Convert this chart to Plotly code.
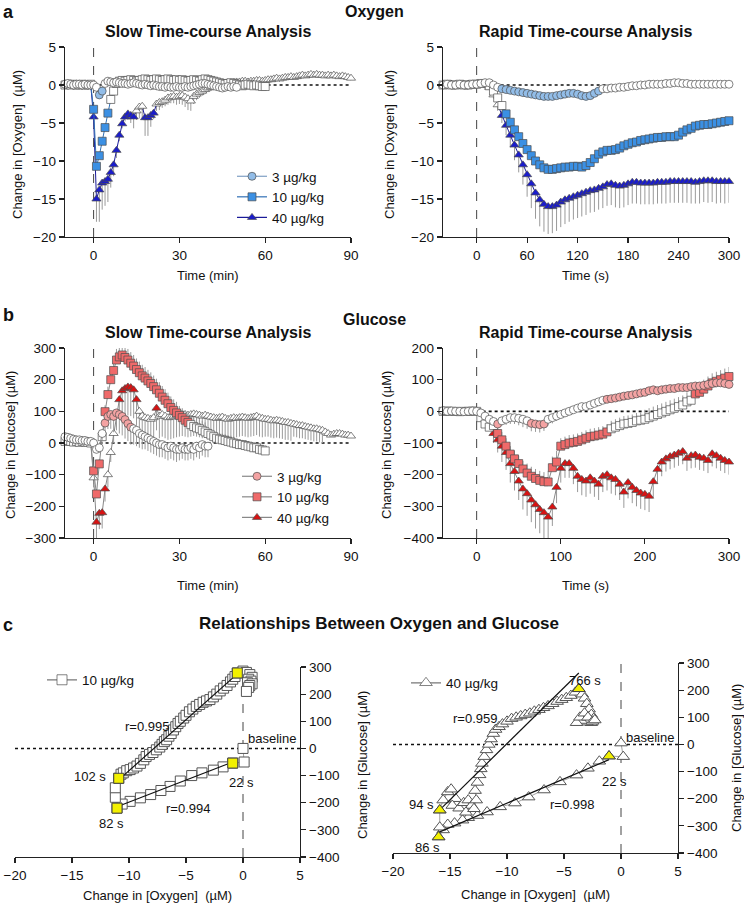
import numpy as np
import plotly.graph_objects as go

FONT = "Liberation Sans, Arial, Helvetica, sans-serif"
W, H = 744, 907

# ---------------- Oxygen, slow time-course (min) ----------------
ox_slow_t3 = list(range(-10, 51))
ox_slow_3 = [0.1, 0.2, 0.1, 0.0, 0.1, 0.1, 0.0, 0.1, 0.0, 0.0,
             0.0, -0.3, -1.3, -0.8, 0.2, 0.5, 0.4, 0.3, 0.4, 0.3,
             0.2, 0.2, 0.1, 0.2, 0.3, 0.2, 0.1, 0.0, 0.1, 0.0,
             -0.1, 0.0, -0.1, -0.2, -0.2, -0.3, -0.2, -0.3, -0.3, -0.2,
             -0.3, -0.3, -0.2, -0.3, -0.2, -0.1, 0.0, 0.1, 0.2, 0.2,
             0.1, 0.0, -0.1, -0.2, -0.3, -0.4, -0.3, -0.2, -0.3, -0.2, -0.3]
ox_slow_3_sig = [(2, 3)]
ox_slow_3_err = 0.2

ox_slow_t10 = list(range(-10, 61))
ox_slow_10 = [0.0, 0.1, 0.0, 0.1, 0.0, 0.0, 0.1, 0.0, 0.0, 0.1,
              -3.2, -10.7, -9.3, -7.4, -5.6, -3.7, -1.9, -0.8, 0.2, 0.5,
              0.6, 0.5, 0.6, 0.7, 0.6, 0.5, 0.6, 0.7, 0.8, 0.7,
              0.6, 0.7, 0.8, 0.7, 0.6, 0.7, 0.8, 0.7, 0.6, 0.7,
              0.6, 0.7, 0.6, 0.5, 0.6, 0.7, 0.6, 0.5, 0.7, 0.8,
              0.7, 0.6, 0.5, 0.4, 0.3, 0.2, 0.1, 0.2, 0.3, 0.2,
              0.1, 0.0, -0.1, 0.0, 0.1, 0.0, -0.1, 0.0, -0.1, -0.2, -0.2]
ox_slow_10_sig = [(0, 5)]
ox_slow_10_err = 0.4

ox_slow_t40 = list(range(-10, 91))
ox_slow_40 = [0.1, 0.0, 0.1, 0.0, 0.0, 0.1, 0.0, 0.0, 0.0, 0.0,
              -4.2, -15.0, -13.8, -12.9, -12.7, -12.4, -11.5, -10.5, -8.6, -6.6,
              -5.1, -4.2, -3.8, -4.0, -4.2, -3.4, -2.9, -2.8, -4.3, -4.3,
              -4.0, -3.7, -2.5, -2.3, -2.2, -2.0, -1.7, -1.6, -1.5, -1.6,
              -1.5, -1.4, -1.6, -1.8, -2.1, -1.5, -1.2, -1.0, -0.8, -0.6,
              -0.4, -0.3, -0.2, -0.1, 0.0, 0.1, 0.2, 0.2, 0.3, 0.3,
              0.4, 0.4, 0.5, 0.5, 0.4, 0.5, 0.5, 0.6, 0.6, 0.5,
              0.6, 0.7, 0.7, 0.8, 0.9, 0.8, 0.9, 1.0, 1.0, 1.1,
              1.0, 1.1, 1.2, 1.3, 1.2, 1.3, 1.4, 1.3, 1.4, 1.3,
              1.3, 1.2, 1.3, 1.2, 1.3, 1.2, 1.1, 1.2, 1.1, 1.0, 0.9]
ox_slow_40_sig = [(0, 14), (18, 21)]
ox_slow_40_err = [0.2, 0.2, 0.2, 0.2, 0.2, 0.2, 0.2, 0.2, 0.2, 0.2,
                  1.5, 3.0, 4.2, 3.5, 3.2, 3.0, 2.0, 1.5, 1.0, 0.8,
                  0.6, 0.6, 0.8, 1.0, 1.5, 1.2, 1.5, 1.8, 2.4, 2.4,
                  1.5, 0.8, 0.9, 1.0, 0.8, 0.8, 0.9, 0.8, 0.9, 1.0,
                  1.0, 1.2, 1.3, 1.5, 1.3, 1.0, 0.8, 0.7, 0.6, 0.6,
                  0.5, 0.5, 0.5, 0.5, 0.5, 0.5, 0.5, 0.5, 0.5, 0.5,
                  0.4, 0.4, 0.4, 0.4, 0.4, 0.4, 0.4, 0.4, 0.4, 0.4,
                  0.4, 0.4, 0.4, 0.4, 0.4, 0.4, 0.4, 0.4, 0.4, 0.4,
                  0.3, 0.3, 0.3, 0.3, 0.3, 0.3, 0.3, 0.3, 0.3, 0.3,
                  0.3, 0.3, 0.3, 0.3, 0.3, 0.3, 0.3, 0.3, 0.3, 0.3, 0.3]

# ---------------- Oxygen, rapid time-course (s) ----------------
rapid_t = list(range(-40, 301, 5))
ox_rapid_3 = [0.0, 0.1, 0.0, 0.0, 0.1, 0.0, 0.0, 0.1,
              0.1, 0.2, 0.3, 0.3, 0.0, -0.3, -0.5, -0.6, -0.7, -0.8,
              -0.9, -1.0, -1.1, -1.2, -1.3, -1.4, -1.5, -1.5, -1.5, -1.4,
              -1.3, -1.2, -1.1, -1.1, -1.2, -1.4, -1.5, -1.4, -1.1, -0.8,
              -0.5, -0.5, -0.4, -0.4, -0.3, -0.3, -0.2, -0.1, -0.1, 0.0,
              0.0, 0.1, 0.1, 0.1, 0.1, 0.2, 0.2, 0.3, 0.3, 0.2,
              0.2, 0.1, 0.1, 0.1, 0.1, 0.1, 0.1, 0.1, 0.1, 0.1, 0.1]
ox_rapid_3_sig = [(30, 145)]
ox_rapid_3_err = 0.15

ox_rapid_10 = [0.0, 0.1, 0.0, 0.0, 0.1, 0.0, 0.0, 0.1,
               0.1, 0.2, 0.2, -0.1, -0.8, -1.7, -2.7, -3.8, -4.9, -5.9,
               -6.8, -7.7, -8.5, -9.3, -10.0, -10.5, -10.9, -11.1, -11.1, -11.0,
               -10.9, -10.8, -10.8, -10.7, -10.7, -10.8, -10.6, -10.2, -9.7, -9.1,
               -8.8, -8.6, -8.6, -8.5, -8.3, -8.0, -7.8, -7.6, -7.5, -7.3,
               -7.2, -7.1, -7.0, -6.9, -6.9, -6.8, -6.8, -6.8, -6.6, -6.2,
               -5.9, -5.7, -5.4, -5.3, -5.2, -5.2, -5.1, -5.0, -4.9, -4.8, -4.7]
ox_rapid_10_sig = [(35, 300)]
ox_rapid_10_err = 0.5

ox_rapid_40 = [0.0, 0.0, 0.1, 0.0, 0.0, 0.0, 0.1, 0.0,
               0.1, 0.2, 0.2, -0.3, -1.3, -2.6, -4.0, -5.3, -6.6, -7.9,
               -9.2, -10.5, -11.8, -13.0, -14.2, -15.1, -15.7, -16.0, -16.0, -15.8,
               -15.4, -15.1, -14.9, -14.7, -14.5, -14.3, -14.1, -13.9, -13.8, -13.6,
               -13.4, -13.1, -13.0, -13.2, -13.3, -13.2, -13.0, -12.8, -12.8, -12.9,
               -12.9, -12.9, -12.9, -12.8, -12.8, -12.8, -12.7, -12.7, -12.7, -12.7,
               -12.7, -12.7, -12.8, -12.7, -12.6, -12.6, -12.6, -12.7, -12.7, -12.7, -12.7]
ox_rapid_40_sig = [(30, 300)]
ox_rapid_40_err = [0.1, 0.1, 0.1, 0.1, 0.1, 0.1, 0.1, 0.1,
                   0.1, 0.1, 0.1, 0.3, 0.5, 0.8, 1.0, 1.3, 1.6, 2.0,
                   2.3, 2.6, 2.9, 3.2, 3.4, 3.5, 3.6, 3.6, 3.5, 3.4,
                   3.3, 3.2, 3.1, 3.0, 3.0, 3.0, 3.0, 2.9, 2.9, 2.8,
                   2.8, 2.8, 2.8, 2.9, 2.9, 2.9, 2.8, 2.8, 2.8, 2.8,
                   2.8, 2.8, 2.8, 2.8, 2.8, 2.8, 2.8, 2.8, 2.8, 2.8,
                   2.8, 2.9, 2.8, 2.9, 2.8, 2.9, 2.8, 2.9, 2.8, 2.9, 2.8]

# ---------------- Glucose, slow time-course (min) ----------------
glu_slow_t3 = list(range(-10, 41))
glu_slow_3 = [20, 18, 15, 12, 10, 10, 8, 8, 5, 5,
              0, -20, -15, 30, 63, 84, 90, 84, 95, 90,
              84, 74, 61, 50, 45, 40, 30, 25, 20, 15,
              10, 5, 0, -5, -5, -10, -15, -10, -15, -20,
              -20, -15, -20, -20, -15, -20, -10, -15, -5, -10, -10]
glu_slow_3_sig = [(4, 13)]
glu_slow_3_err = [5, 5, 5, 5, 5, 5, 5, 5, 5, 5,
                  5, 10, 10, 20, 30, 40, 45, 50, 55, 60,
                  60, 60, 55, 55, 50, 50, 45, 45, 40, 40,
                  40, 40, 40, 40, 40, 40, 40, 40, 40, 40,
                  35, 35, 35, 35, 35, 35, 35, 35, 35, 35, 35]

glu_slow_t10 = list(range(-10, 61))
glu_slow_10 = [5, 8, 5, 3, 5, 2, 5, 3, 2, 0,
               -88, -161, -66, 20, 99, 153, 200, 229, 262, 272,
               278, 270, 262, 252, 243, 232, 222, 212, 205, 196,
               188, 178, 168, 157, 145, 135, 124, 112, 103, 95,
               87, 80, 72, 65, 58, 52, 48, 45, 40, 35,
               30, 25, 20, 15, 12, 10, 8, 5, 3, 0,
               -2, -5, -5, -8, -10, -12, -15, -15, -20, -22, -25]
glu_slow_10_sig = [(0, 2), (4, 33)]
glu_slow_10_err = [5, 5, 5, 5, 5, 5, 5, 5, 5, 5,
                   10, 15, 15, 10, 20, 25, 30, 30, 35, 35,
                   35, 35, 35, 35, 35, 35, 35, 35, 35, 35,
                   35, 35, 35, 35, 35, 35, 35, 35, 35, 35,
                   30, 30, 30, 30, 30, 30, 30, 30, 30, 30,
                   20, 20, 20, 20, 20, 20, 20, 20, 20, 20,
                   15, 15, 15, 15, 15, 15, 15, 15, 15, 15, 15]

glu_slow_t40 = list(range(-10, 91))
glu_slow_40 = [5, 8, 5, 3, 5, 2, 5, 3, 2, 0,
               -110, -250, -222, -220, -145, -100, -30, 30, 90, 137,
               165, 172, 177, 175, 168, 137, 100, 85, 80, 78,
               75, 80, 110, 85, 90, 85, 80, 82, 85, 88,
               90, 92, 90, 88, 90, 92, 90, 88, 85, 88,
               85, 82, 80, 78, 80, 82, 78, 75, 78, 80,
               78, 80, 82, 80, 78, 80, 82, 85, 80, 78,
               75, 75, 72, 70, 72, 70, 68, 65, 65, 62,
               60, 58, 55, 55, 52, 50, 48, 45, 45, 42,
               40, 35, 30, 25, 28, 30, 30, 28, 25, 25, 22]
glu_slow_40_sig = [(1, 4), (9, 15), (22, 22)]
glu_slow_40_err = [5, 5, 5, 5, 5, 5, 5, 5, 5, 5,
                   30, 50, 50, 50, 40, 40, 30, 30, 40, 60,
                   80, 90, 90, 90, 90, 80, 70, 70, 70, 70,
                   70, 70, 70, 70, 70, 70, 70, 70, 70, 70,
                   70, 70, 70, 70, 70, 70, 70, 70, 70, 70,
                   65, 65, 65, 65, 65, 65, 65, 65, 65, 65,
                   60, 60, 60, 60, 60, 60, 60, 60, 60, 60,
                   55, 55, 55, 55, 55, 55, 55, 55, 55, 55,
                   40, 40, 40, 40, 40, 40, 40, 40, 40, 40, 40]

# ---------------- Glucose, rapid time-course (s) ----------------
glu_rapid_3 = [2, 0, 1, 0, 0, -1, 0, 1,
               0, -5, -15, -25, -32, -40, -30, -25, -20, -20,
               -22, -25, -30, -38, -40, -42, -40, -25, -20, -15,
               -10, -5, 0, 5, 10, 15, 15, 20, 25, 30,
               35, 38, 40, 42, 45, 48, 50, 52, 55, 58,
               60, 65, 68, 65, 68, 70, 72, 72, 75, 75,
               75, 78, 80, 80, 82, 85, 88, 90, 90, 88, 85]
glu_rapid_3_sig = [(25, 25), (65, 80), (155, 300)]
glu_rapid_3_err = [3, 3, 3, 3, 3, 3, 3, 3,
                   3, 5, 8, 10, 12, 15, 15, 18, 20, 20,
                   22, 25, 25, 25, 25, 25, 22, 20, 18, 15,
                   12, 12, 10, 10, 10, 10, 10, 10, 10, 10,
                   10, 10, 10, 10, 10, 10, 10, 10, 10, 10,
                   10, 10, 10, 10, 10, 10, 10, 10, 10, 10,
                   10, 10, 10, 10, 10, 10, 10, 10, 10, 10, 10]

glu_rapid_10 = [0, 1, 0, 0, -1, 0, 0, 1,
                0, -20, -40, -50, -45, -70, -90, -110, -135, -150,
                -165, -182, -195, -205, -212, -218, -222, -223, -178, -160,
                -110, -105, -100, -98, -95, -90, -85, -80, -78, -75,
                -72, -65, -55, -50, -45, -40, -38, -35, -30, -28,
                -25, -20, -15, -10, -5, 0, 5, 10, 15, 20,
                30, 35, 55, 60, 70, 80, 90, 95, 100, 105, 110]
glu_rapid_10_sig = [(25, 155), (260, 300)]
glu_rapid_10_err = [3, 3, 3, 3, 3, 3, 3, 3,
                    5, 10, 15, 15, 20, 20, 25, 25, 25, 25,
                    25, 25, 30, 30, 30, 30, 30, 35, 35, 35,
                    25, 25, 25, 25, 25, 25, 25, 25, 25, 25,
                    25, 25, 25, 25, 25, 25, 25, 25, 25, 25,
                    30, 30, 30, 30, 30, 30, 30, 30, 30, 30,
                    30, 30, 30, 30, 30, 30, 30, 30, 30, 30, 30]

glu_rapid_40 = [1, 0, 0, 1, 0, 0, -1, 0,
                0, -5, -20, -40, -70, -90, -110, -130, -165, -190,
                -220, -245, -260, -280, -295, -310, -320, -334, -302, -240,
                -180, -165, -165, -180, -205, -215, -220, -210, -220, -230,
                -205, -200, -210, -215, -230, -255, -225, -240, -250, -258,
                -262, -268, -222, -183, -160, -150, -143, -138, -132, -127,
                -148, -140, -138, -145, -148, -155, -134, -140, -148, -155, -160]
glu_rapid_40_sig = [(20, 300)]
glu_rapid_40_err = [2, 2, 2, 2, 2, 2, 2, 2,
                    2, 5, 10, 20, 30, 40, 50, 55, 60, 60,
                    60, 65, 70, 70, 75, 75, 80, 80, 60, 50,
                    45, 45, 45, 50, 50, 50, 50, 50, 50, 50,
                    50, 50, 50, 50, 50, 50, 50, 50, 50, 50,
                    50, 50, 50, 45, 45, 40, 40, 40, 40, 40,
                    40, 40, 40, 40, 40, 40, 40, 40, 40, 40, 40]

# ---------------- Oxygen vs glucose relationships ----------------
c10_start_ox = [0.0, 0.1]
c10_start_glu = [0, -50]
c10_lower_ox = [-0.9, -1.75, -2.6, -3.6, -4.5, -5.5, -6.4, -7.2, -8.1, -9.0, -9.9, -10.6, -11.05]
c10_lower_glu = [-54, -68, -80, -90, -100, -120, -140, -155, -170, -182, -195, -205, -220]
c10_mid_ox = [-11.2, -11.2]
c10_mid_glu = [-180, -145]
c10_upper_ox = [-10.9, -10.7, -10.5, -10.2, -9.9, -9.6, -9.3, -9.0, -8.7, -8.5,
                -8.2, -7.9, -7.6, -7.3, -7.1, -6.9, -6.7, -6.5, -6.3, -6.1,
                -5.9, -5.7, -5.5, -5.2, -5.0, -4.7, -4.4, -4.1, -3.8, -3.5,
                -3.2, -2.9, -2.6, -2.3, -2.0, -1.7, -1.4, -1.1, -0.9, -0.7, -0.5]
c10_upper_glu = [-110, -95, -90, -82, -78, -72, -65, -55, -42, -30,
                 -22, -15, -5, 5, 15, 25, 32, 45, 55, 68,
                 80, 92, 100, 112, 122, 135, 145, 155, 162, 170,
                 175, 180, 190, 200, 212, 222, 232, 245, 255, 265, 278]
c10_tail_ox = [0.0, 0.3, 0.6, 0.8, 0.5, 0.7, 0.4, 0.8, 0.6, 0.5, 0.3]
c10_tail_glu = [285, 280, 272, 262, 255, 248, 242, 238, 232, 225, 210]

c40_start_ox = [0.0, 0.2]
c40_start_glu = [5, -45]
c40_lower_ox = [-1.05, -1.9, -2.9, -3.9, -5.35, -6.75, -8.1, -9.3, -10.6, -11.75,
                -12.6, -13.4, -13.9, -14.6, -15.2, -15.6, -16.0]
c40_lower_glu = [-43, -62, -88, -113, -138, -168, -194, -216, -230, -249,
                 -262, -270, -279, -290, -295, -315, -341]
c40_mid_ox = [-15.9]
c40_mid_glu = [-305]
c40_upper_ox = [-15.9, -15.6, -15.2, -14.9, -14.5, -14.8, -14.2, -13.8, -13.4, -13.1,
                -13.6, -12.9, -12.7, -12.8, -12.6, -12.4, -12.3, -12.2, -12.0, -11.8,
                -11.6, -11.4, -11.2, -11.0, -10.7, -10.4, -10.0, -9.6, -9.2, -8.8,
                -8.4, -8.0, -7.6, -7.2, -6.8, -6.4, -6.0, -5.6, -5.2, -4.8,
                -4.4, -4.0, -3.7]
c40_upper_glu = [-242, -205, -175, -165, -200, -225, -235, -215, -205, -225,
                 -250, -237, -205, -170, -140, -112, -90, -70, -45, -20,
                 0, 20, 40, 55, 65, 75, 85, 95, 100, 105,
                 110, 115, 122, 128, 135, 142, 150, 158, 165, 172,
                 180, 192, 205]
c40_tail_ox = [-3.4, -3.2, -3.0, -2.8, -2.6, -2.4, -2.6, -3.0, -3.5, -3.9, -3.6, -3.2, -2.9, -2.5, -2.3]
c40_tail_glu = [185, 170, 150, 130, 110, 95, 80, 82, 88, 80, 100, 115, 100, 85, 90]

doses = ["3 µg/kg", "10 µg/kg", "40 µg/kg"]

# ---------------- styling ----------------
BLUE = ["#92bde8", "#3b90e4", "#1a1ccc"]
BLUE_LINE = ["#7f9fc4", "#2f6fb5", "#1a1a99"]
RED = ["#f4a3a3", "#ef6a6a", "#d81212"]
RED_LINE = ["#888888", "#888888", "#888888"]
EDGE = "#4d4d4d"
ERRC = "#9a9a9a"

fig = go.Figure()


def axn(n):
    return ("x" if n == 1 else f"x{n}"), ("y" if n == 1 else f"y{n}")


def sig_colors(t, windows, color):
    return [color if any(a <= ti <= b for a, b in windows) else "white" for ti in t]


def as_list(e, n):
    return list(e) if isinstance(e, (list, tuple)) else [e] * n


def add_series(n, t, v, windows, color, symbol, err, err_dir, line_color):
    xa, ya = axn(n)
    e = as_list(err, len(v))
    z = [0] * len(v)
    ey = dict(type="data", symmetric=False,
              array=e if err_dir == "up" else z,
              arrayminus=e if err_dir == "down" else z,
              color=ERRC, thickness=1, width=0)
    fig.add_trace(go.Scatter(
        x=t, y=v, xaxis=xa, yaxis=ya, mode="lines+markers",
        line=dict(color=line_color, width=1),
        marker=dict(symbol=symbol, size=8, color=sig_colors(t, windows, color),
                    line=dict(color=EDGE, width=0.7)),
        error_y=ey, cliponaxis=False, showlegend=False, hoverinfo="skip"))


def add_legend_entry(n, name, color, symbol, legend, line_color, size=8):
    xa, ya = axn(n)
    fig.add_trace(go.Scatter(
        x=[None], y=[None], xaxis=xa, yaxis=ya, mode="lines+markers", name=name,
        line=dict(color=line_color, width=1.2),
        marker=dict(symbol=symbol, size=size, color=color, line=dict(color=EDGE, width=0.7)),
        legend=legend, showlegend=True))


symbols = ["circle", "square", "triangle-up"]

# panel a, slow
add_series(1, ox_slow_t40, ox_slow_40, ox_slow_40_sig, BLUE[2], symbols[2], ox_slow_40_err, "down", BLUE_LINE[2])
add_series(1, ox_slow_t10, ox_slow_10, ox_slow_10_sig, BLUE[1], symbols[1], ox_slow_10_err, "down", BLUE_LINE[1])
add_series(1, ox_slow_t3, ox_slow_3, ox_slow_3_sig, BLUE[0], symbols[0], ox_slow_3_err, "down", BLUE_LINE[0])
for i in range(3):
    add_legend_entry(1, doses[i], BLUE[i], symbols[i], "legend", BLUE_LINE[i])

# panel a, rapid
add_series(2, rapid_t, ox_rapid_40, ox_rapid_40_sig, BLUE[2], symbols[2], ox_rapid_40_err, "down", BLUE_LINE[2])
add_series(2, rapid_t, ox_rapid_10, ox_rapid_10_sig, BLUE[1], symbols[1], ox_rapid_10_err, "down", BLUE_LINE[1])
add_series(2, rapid_t, ox_rapid_3, ox_rapid_3_sig, BLUE[0], symbols[0], ox_rapid_3_err, "down", BLUE_LINE[0])

# panel b, slow
add_series(3, glu_slow_t40, glu_slow_40, glu_slow_40_sig, RED[2], symbols[2], glu_slow_40_err, "down", RED_LINE[2])
add_series(3, glu_slow_t10, glu_slow_10, glu_slow_10_sig, RED[1], symbols[1], glu_slow_10_err, "up", RED_LINE[1])
add_series(3, glu_slow_t3, glu_slow_3, glu_slow_3_sig, RED[0], symbols[0], glu_slow_3_err, "down", RED_LINE[0])
for i in range(3):
    add_legend_entry(3, doses[i], RED[i], symbols[i], "legend2", RED_LINE[i])

# panel b, rapid
add_series(4, rapid_t, glu_rapid_40, glu_rapid_40_sig, RED[2], symbols[2], glu_rapid_40_err, "down", RED_LINE[2])
add_series(4, rapid_t, glu_rapid_10, glu_rapid_10_sig, RED[1], symbols[1], glu_rapid_10_err, "up", RED_LINE[1])
add_series(4, rapid_t, glu_rapid_3, glu_rapid_3_sig, RED[0], symbols[0], glu_rapid_3_err, "down", RED_LINE[0])


# panel c
def add_relationship(n, parts, symbol, size, legend, name):
    xa, ya = axn(n)
    ox = sum([p[0] for p in parts], [])
    gl = sum([p[1] for p in parts], [])
    fig.add_trace(go.Scatter(
        x=ox, y=gl, xaxis=xa, yaxis=ya, mode="lines+markers",
        line=dict(color="#8a8a8a", width=0.8),
        marker=dict(symbol=symbol, size=size, color="white", line=dict(color="#555555", width=1)),
        cliponaxis=False, showlegend=False, hoverinfo="skip"))
    add_legend_entry(n, name, "white", symbol, legend, "#777777", size=size)


def add_fit(n, xs, ys):
    xa, ya = axn(n)
    k, b = np.polyfit(xs, ys, 1)
    x0, x1 = min(xs), max(xs)
    fig.add_trace(go.Scatter(x=[x0, x1], y=[k * x0 + b, k * x1 + b], xaxis=xa, yaxis=ya,
                             mode="lines", line=dict(color="#111111", width=1.2),
                             showlegend=False, hoverinfo="skip", cliponaxis=False))


def add_keys(n, xs, ys, symbol, size):
    xa, ya = axn(n)
    fig.add_trace(go.Scatter(x=xs, y=ys, xaxis=xa, yaxis=ya, mode="markers",
                             marker=dict(symbol=symbol, size=size, color="#f2f000",
                                         line=dict(color="#444444", width=1)),
                             showlegend=False, hoverinfo="skip", cliponaxis=False))


add_relationship(5, [(c10_start_ox, c10_start_glu), (c10_lower_ox, c10_lower_glu),
                     (c10_mid_ox, c10_mid_glu), (c10_upper_ox, c10_upper_glu),
                     (c10_tail_ox, c10_tail_glu)], "square", 10, "legend3", "10 µg/kg")
add_fit(5, c10_lower_ox, c10_lower_glu)
add_fit(5, c10_upper_ox, c10_upper_glu)
add_keys(5, [c10_lower_ox[0], c10_lower_ox[-1], c10_upper_ox[0], c10_upper_ox[-1]],
         [c10_lower_glu[0], c10_lower_glu[-1], c10_upper_glu[0], c10_upper_glu[-1]], "square", 10)

add_relationship(6, [(c40_start_ox, c40_start_glu), (c40_lower_ox, c40_lower_glu),
                     (c40_mid_ox, c40_mid_glu), (c40_upper_ox, c40_upper_glu),
                     (c40_tail_ox, c40_tail_glu)], "triangle-up", 11, "legend4", "40 µg/kg")
add_fit(6, c40_lower_ox, c40_lower_glu)
add_fit(6, c40_upper_ox, c40_upper_glu)
add_keys(6, [c40_lower_ox[0], c40_lower_ox[-1], c40_upper_ox[0], c40_upper_ox[-1]],
         [c40_lower_glu[0], c40_lower_glu[-1], c40_upper_glu[0], c40_upper_glu[-1]], "triangle-up", 11)


# ---------------- axes ----------------
def dx(a, b):
    return [a / W, b / W]


def dy(top, bottom):
    return [1 - bottom / H, 1 - top / H]


def axis(domain, rng, tickvals, anchor, side=None):
    d = dict(domain=domain, range=rng, tickvals=tickvals, anchor=anchor,
             showline=True, linecolor="#222222", linewidth=1.3,
             ticks="outside", ticklen=5, tickwidth=1.2, tickcolor="#222222",
             showgrid=False, zeroline=False, fixedrange=True, automargin=False,
             tickfont=dict(size=13.5, family=FONT, color="#111111"))
    if side:
        d["side"] = side
    return d


layout_axes = dict(
    xaxis=axis(dx(65, 351), [-10, 90], [0, 30, 60, 90], "y"),
    yaxis=axis(dy(47, 237), [-20, 5], [-20, -15, -10, -5, 0, 5], "x"),
    xaxis2=axis(dx(443, 729), [-40, 300], [0, 60, 120, 180, 240, 300], "y2"),
    yaxis2=axis(dy(47, 237), [-20, 5], [-20, -15, -10, -5, 0, 5], "x2"),
    xaxis3=axis(dx(65, 351), [-10, 90], [0, 30, 60, 90], "y3"),
    yaxis3=axis(dy(348, 538), [-300, 300], [-300, -200, -100, 0, 100, 200, 300], "x3"),
    xaxis4=axis(dx(443, 729), [-40, 300], [0, 100, 200, 300], "y4"),
    yaxis4=axis(dy(348, 538), [-400, 200], [-400, -300, -200, -100, 0, 100, 200], "x4"),
    xaxis5=axis(dx(15, 300), [-20, 5], [-20, -15, -10, -5, 0, 5], "y5"),
    yaxis5=axis(dy(667, 857), [-400, 300], [-400, -300, -200, -100, 0, 100, 200, 300], "x5", "right"),
    xaxis6=axis(dx(393, 678), [-20, 5], [-20, -15, -10, -5, 0, 5], "y6"),
    yaxis6=axis(dy(663, 853), [-400, 300], [-400, -300, -200, -100, 0, 100, 200, 300], "x6", "right"),
)

# ---------------- reference lines ----------------
shapes = []
ranges = {1: ([-10, 90], [-20, 5]), 2: ([-40, 300], [-20, 5]), 3: ([-10, 90], [-300, 300]),
          4: ([-40, 300], [-400, 200]), 5: ([-20, 5], [-400, 300]), 6: ([-20, 5], [-400, 300])}
for n, (xr, yr) in ranges.items():
    xa, ya = axn(n)
    shapes.append(dict(type="line", xref=xa, yref=ya, x0=0, x1=0, y0=yr[0], y1=yr[1],
                       line=dict(color="#444444", width=1, dash="dash"), layer="below"))
    hx0 = xr[0] if n >= 5 else 0
    shapes.append(dict(type="line", xref=xa, yref=ya, x0=hx0, x1=xr[1], y0=0, y1=0,
                       line=dict(color="#111111", width=1.6, dash="dot"), layer="below"))


# ---------------- text ----------------
def pa(x, y, text, size=13, bold=False, xanchor="center", yanchor="middle", angle=0):
    return dict(xref="paper", yref="paper", x=x / W, y=1 - y / H, text=f"<b>{text}</b>" if bold else text,
                showarrow=False, xanchor=xanchor, yanchor=yanchor, textangle=angle,
                font=dict(size=size, family=FONT, color="#111111"))


def da(n, x, y, text, xanchor="center"):
    xa, ya = axn(n)
    return dict(xref=xa, yref=ya, x=x, y=y, text=text, showarrow=False, xanchor=xanchor,
                yanchor="middle", font=dict(size=13, family=FONT, color="#111111"))


OXT = "Change in [Oxygen]\u00a0\u00a0(µM)"
GLT = "Change in [Glucose] (µM)"
annotations = [
    pa(1, 12, "a", 18, True, "left"),
    pa(374, 12, "Oxygen", 16, True),
    pa(208, 31, "Slow Time-course Analysis", 16, True),
    pa(586, 31, "Rapid Time-course Analysis", 16, True),
    pa(1, 315, "b", 18, True, "left"),
    pa(374, 319, "Glucose", 16, True),
    pa(208, 333, "Slow Time-course Analysis", 16, True),
    pa(586, 333, "Rapid Time-course Analysis", 16, True),
    pa(1, 625, "c", 18, True, "left"),
    pa(379, 623, "Relationships Between Oxygen and Glucose", 17, True),
    pa(208, 275, "Time (min)"),
    pa(585, 275, "Time (s)"),
    pa(208, 585, "Time (min)"),
    pa(585, 585, "Time (s)"),
    pa(157, 895, OXT),
    pa(535, 894, OXT),
    pa(17, 145, OXT, angle=-90),
    pa(389, 145, OXT, angle=-90),
    pa(11, 445, GLT, angle=-90),
    pa(387, 445, GLT, angle=-90),
    pa(362, 765, GLT, angle=-90),
    pa(736, 758, GLT, angle=-90),
    da(5, -0.4, 326, "600 s"),
    da(5, -8.4, 79, "r=0.995"),
    da(5, 0.3, 35, "baseline", "left"),
    da(5, -13.4, -105, "102 s"),
    da(5, -0.1, -124, "22 s"),
    da(5, -4.8, -220, "r=0.994"),
    da(5, -11.5, -275, "82 s"),
    da(6, -3.2, 237, "766 s"),
    da(6, -12.8, 97, "r=0.959"),
    da(6, 0.3, 27, "baseline", "left"),
    da(6, -0.6, -138, "22 s"),
    da(6, -4.3, -223, "r=0.998"),
    da(6, -17.5, -223, "94 s"),
    da(6, -17.0, -378, "86 s"),
]


def leg(x, y):
    return dict(x=x / W, y=1 - y / H, xanchor="left", yanchor="middle", bgcolor="rgba(0,0,0,0)",
                font=dict(size=13.5, family=FONT, color="#111111"), itemwidth=30, tracegroupgap=0,
                borderwidth=0)


fig.update_layout(
    width=W, height=H, autosize=False,
    margin=dict(l=0, r=0, t=0, b=0, pad=0, autoexpand=False),
    paper_bgcolor="white", plot_bgcolor="white",
    font=dict(family=FONT, size=13, color="#111111"),
    shapes=shapes, annotations=annotations,
    legend=leg(232, 197), legend2=leg(237, 497),
    legend3=leg(42, 680), legend4=leg(406, 683),
    **layout_axes,
)

fig.write_html(
    "out.html",
    config={"displayModeBar": False, "staticPlot": True},
    post_script="document.body.style.margin='0';document.body.style.overflow='hidden';",
)
